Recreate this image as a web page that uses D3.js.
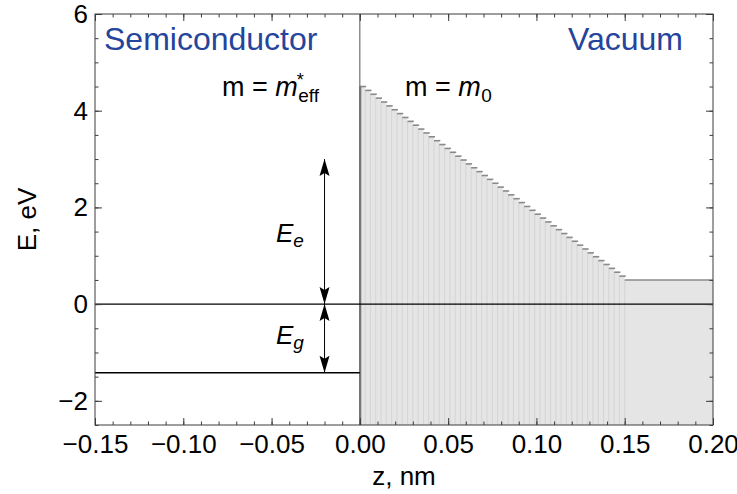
<!DOCTYPE html>
<html>
<head>
<meta charset="utf-8">
<script src="https://cdn.jsdelivr.net/npm/d3@7"></script>
<style>
  html, body { margin: 0; padding: 0; background: #fff; }
  svg { display: block; font-family: "Liberation Sans", Arial, sans-serif; }
</style>
</head>
<body>
<svg id="chart" width="737" height="494"></svg>
<script>
// Potential profile across a semiconductor / vacuum interface.
// Vacuum side: staircase potential, one step per slab edge (nm) and energy (eV).
const stepEdges = [
  0.000, 0.003, 0.006, 0.009, 0.012, 0.015, 0.018, 0.021, 0.024, 0.027,
  0.030, 0.033, 0.036, 0.039, 0.042, 0.045, 0.048, 0.051, 0.054, 0.057,
  0.060, 0.063, 0.066, 0.069, 0.072, 0.075, 0.078, 0.081, 0.084, 0.087,
  0.090, 0.093, 0.096, 0.099, 0.102, 0.105, 0.108, 0.111, 0.114, 0.117,
  0.120, 0.123, 0.126, 0.129, 0.132, 0.135, 0.138, 0.141, 0.144, 0.147,
  0.150
];
const stepEnergies = [
  4.50, 4.42, 4.34, 4.26, 4.18, 4.10, 4.02, 3.94, 3.86, 3.78,
  3.70, 3.62, 3.54, 3.46, 3.38, 3.30, 3.22, 3.14, 3.06, 2.98,
  2.90, 2.82, 2.74, 2.66, 2.58, 2.50, 2.42, 2.34, 2.26, 2.18,
  2.10, 2.02, 1.94, 1.86, 1.78, 1.70, 1.62, 1.54, 1.46, 1.38,
  1.30, 1.22, 1.14, 1.06, 0.98, 0.90, 0.82, 0.74, 0.66, 0.58
];
// Flat tail beyond the last step
const tailZ = [0.150, 0.200];
const tailEnergy = 0.5;

// Band edges (eV)
const conductionBand = 0.0;
const valenceBand = -1.42;
const interfaceZ = 0.0;

// Annotated energies: electron affinity E_e and band gap E_g
const arrowZ = -0.02;
const eeRange = [0.0, 3.0];
const egRange = [-1.42, 0.0];

// Axes
const xDomain = [-0.15, 0.20];
const yDomain = [-2.5, 6];
const xMajorTicks = [-0.15, -0.10, -0.05, 0.00, 0.05, 0.10, 0.15, 0.20];
const yMajorTicks = [-2, 0, 2, 4, 6];
const xMinorTicks = d3.range(-15, 21).map(k => k / 100);
const yMinorTicks = d3.range(-5, 13).map(k => k / 2);

const svg = d3.select("#chart");
const L = 95, R = 713, T = 14, B = 425;
const x = d3.scaleLinear().domain(xDomain).range([L, R]);
const y = d3.scaleLinear().domain(yDomain).range([B, T]);

const frameColor = "#3c3c3c";
const blue = "#25449c";
const tickFont = 26;

// Shaded vacuum region under the staircase
const areaPts = [[interfaceZ, yDomain[0]]];
stepEnergies.forEach((e, i) => {
  areaPts.push([stepEdges[i], e]);
  areaPts.push([stepEdges[i + 1], e]);
});
areaPts.push([tailZ[0], tailEnergy], [tailZ[1], tailEnergy], [tailZ[1], yDomain[0]]);
svg.append("path")
  .attr("d", d3.line().x(d => x(d[0])).y(d => y(d[1]))(areaPts) + "Z")
  .attr("fill", "#e5e5e5");

// Column edges of each slab
svg.append("g").selectAll("line")
  .data(stepEnergies.slice(1))
  .join("line")
  .attr("x1", (d, i) => x(stepEdges[i + 1]))
  .attr("x2", (d, i) => x(stepEdges[i + 1]))
  .attr("y1", d => y(d))
  .attr("y2", y(yDomain[0]))
  .attr("stroke", "#cdcdcd")
  .attr("stroke-width", 0.7);
svg.append("line")
  .attr("x1", x(tailZ[0])).attr("x2", x(tailZ[0]))
  .attr("y1", y(tailEnergy)).attr("y2", y(yDomain[0]))
  .attr("stroke", "#cdcdcd").attr("stroke-width", 0.7);

// Step tops
svg.append("g").selectAll("line")
  .data(stepEnergies)
  .join("line")
  .attr("x1", (d, i) => x(stepEdges[i]))
  .attr("x2", (d, i) => x(stepEdges[i + 1]) + 1)
  .attr("y1", d => y(d))
  .attr("y2", d => y(d))
  .attr("stroke", "#8a8a8a")
  .attr("stroke-width", 1.6);
svg.append("line")
  .attr("x1", x(tailZ[0])).attr("x2", x(tailZ[1]))
  .attr("y1", y(tailEnergy)).attr("y2", y(tailEnergy))
  .attr("stroke", "#8a8a8a").attr("stroke-width", 1.6);

// Interface: left edge of the shaded region and the full-height boundary
svg.append("line")
  .attr("x1", x(interfaceZ) + 0.5).attr("x2", x(interfaceZ) + 0.5)
  .attr("y1", y(stepEnergies[0])).attr("y2", y(yDomain[0]))
  .attr("stroke", "#8a8a8a").attr("stroke-width", 2);
svg.append("line")
  .attr("x1", x(interfaceZ)).attr("x2", x(interfaceZ))
  .attr("y1", y(yDomain[1])).attr("y2", y(yDomain[0]))
  .attr("stroke", "#555").attr("stroke-width", 1);

// Band edges
svg.append("line")
  .attr("x1", x(xDomain[0])).attr("x2", x(xDomain[1]))
  .attr("y1", y(conductionBand)).attr("y2", y(conductionBand))
  .attr("stroke", "#000").attr("stroke-width", 1.4);
svg.append("line")
  .attr("x1", x(xDomain[0])).attr("x2", x(interfaceZ))
  .attr("y1", y(valenceBand)).attr("y2", y(valenceBand))
  .attr("stroke", "#000").attr("stroke-width", 1.4);

// Double-headed arrows
function arrowHead(g, px, py, dir) {
  // dir = -1 points up, +1 points down
  const len = 17, half = 5, notch = 14;
  const p = [[0, 0], [half, -dir * len], [0, -dir * notch], [-half, -dir * len]];
  g.append("path")
    .attr("d", "M" + p.map(q => [px + q[0], py + q[1]].join(",")).join("L") + "Z")
    .attr("fill", "#000");
}
function doubleArrow(range) {
  const g = svg.append("g");
  const xa = x(arrowZ);
  g.append("line")
    .attr("x1", xa).attr("x2", xa)
    .attr("y1", y(range[0])).attr("y2", y(range[1]))
    .attr("stroke", "#000").attr("stroke-width", 1);
  arrowHead(g, xa, y(range[1]), -1);
  arrowHead(g, xa, y(range[0]), 1);
}
doubleArrow(eeRange);
doubleArrow(egRange);

// Frame
svg.append("rect")
  .attr("x", L).attr("y", T).attr("width", R - L).attr("height", B - T)
  .attr("fill", "none").attr("stroke", frameColor).attr("stroke-width", 1);

// Ticks on all four sides, pointing inward
const fmtX = d3.format(".2f");
const fmtY = d3.format("d");
function styleAxis(g) {
  g.select(".domain").remove();
  g.selectAll(".tick line").attr("stroke", frameColor);
  g.selectAll("text").attr("fill", "#000").attr("font-size", tickFont)
    .attr("font-family", "'Liberation Sans', Arial, sans-serif");
}
svg.append("g").attr("transform", `translate(0,${B})`)
  .call(d3.axisBottom(x).tickValues(xMinorTicks).tickSize(-3.5).tickFormat(""))
  .call(styleAxis);
svg.append("g").attr("transform", `translate(0,${B})`)
  .call(d3.axisBottom(x).tickValues(xMajorTicks).tickSize(-7).tickPadding(10).tickFormat(fmtX))
  .call(styleAxis);
svg.append("g").attr("transform", `translate(0,${T})`)
  .call(d3.axisTop(x).tickValues(xMinorTicks).tickSize(-3.5).tickFormat(""))
  .call(styleAxis);
svg.append("g").attr("transform", `translate(0,${T})`)
  .call(d3.axisTop(x).tickValues(xMajorTicks).tickSize(-7).tickFormat(""))
  .call(styleAxis);
svg.append("g").attr("transform", `translate(${L},0)`)
  .call(d3.axisLeft(y).tickValues(yMinorTicks).tickSize(-3.5).tickFormat(""))
  .call(styleAxis);
svg.append("g").attr("transform", `translate(${L},0)`)
  .call(d3.axisLeft(y).tickValues(yMajorTicks).tickSize(-7).tickPadding(7).tickFormat(fmtY))
  .call(styleAxis);
svg.append("g").attr("transform", `translate(${R},0)`)
  .call(d3.axisRight(y).tickValues(yMinorTicks).tickSize(-3.5).tickFormat(""))
  .call(styleAxis);
svg.append("g").attr("transform", `translate(${R},0)`)
  .call(d3.axisRight(y).tickValues(yMajorTicks).tickSize(-7).tickFormat(""))
  .call(styleAxis);

// Axis titles
svg.append("text")
  .attr("x", (L + R) / 2).attr("y", 485)
  .attr("text-anchor", "middle").attr("font-size", tickFont)
  .text("z, nm");
svg.append("text")
  .attr("transform", `translate(36,${(T + B) / 2}) rotate(-90)`)
  .attr("text-anchor", "middle").attr("font-size", tickFont)
  .text("E, eV");

// Region labels
svg.append("text")
  .attr("x", 104).attr("y", 50).attr("font-size", 32).attr("fill", blue)
  .text("Semiconductor");
svg.append("text")
  .attr("x", 683).attr("y", 50).attr("text-anchor", "end").attr("font-size", 32).attr("fill", blue)
  .text("Vacuum");

// Effective mass labels
function massLabel(x0, sup, sub) {
  const base = svg.append("text").attr("x", x0).attr("y", 96).attr("font-size", 27);
  base.append("tspan").text("m = ");
  base.append("tspan").attr("font-style", "italic").text("m");
  const w = base.node().getComputedTextLength();
  if (sup) {
    svg.append("text").attr("x", x0 + w - 1).attr("y", 86)
      .attr("font-size", 18).text(sup);
  }
  svg.append("text").attr("x", x0 + w + 0.5).attr("y", 102)
    .attr("font-size", 19).text(sub);
}
massLabel(222, "*", "eff");
massLabel(405, null, "0");

// Energy labels
function energyLabel(xp, yp, sub) {
  const t = svg.append("text").attr("x", xp).attr("y", yp)
    .attr("font-size", 26).attr("font-style", "italic");
  t.append("tspan").text("E");
  t.append("tspan").attr("font-size", 19).attr("dy", 5).text(sub);
}
energyLabel(276, 242, "e");
energyLabel(276, 344, "g");
</script>
</body>
</html>
